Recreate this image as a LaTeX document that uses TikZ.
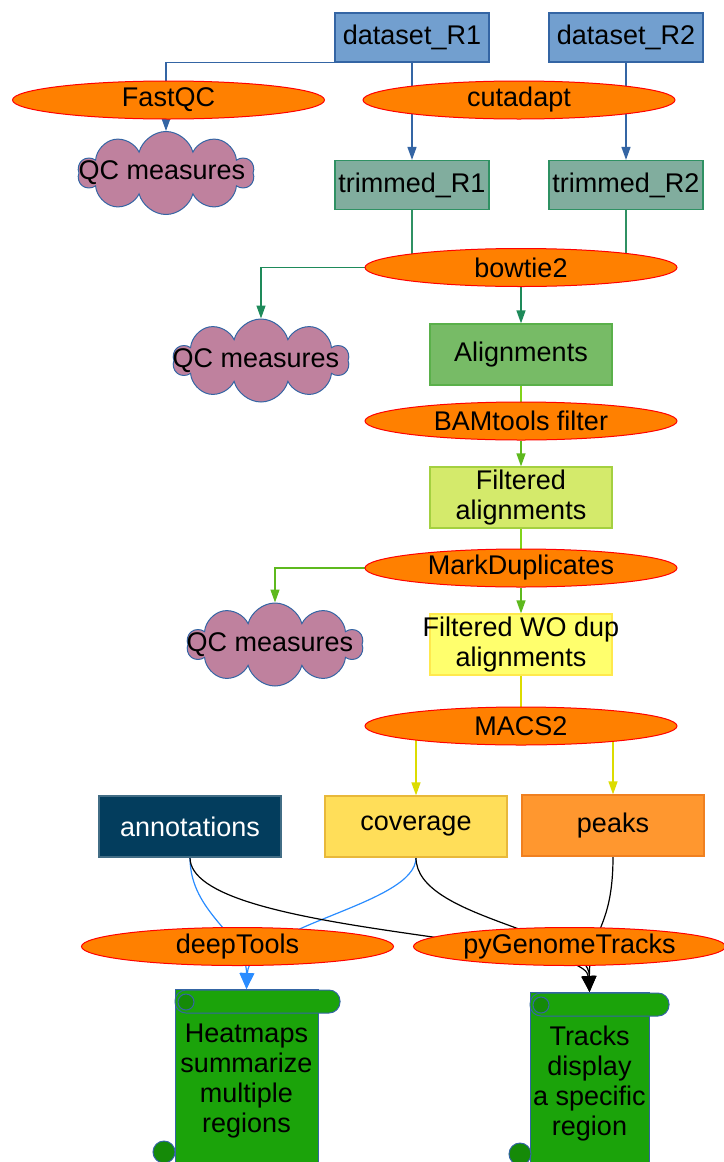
\documentclass[tikz,border=0pt]{standalone}
\usepackage{fontspec}
\setmainfont{Liberation Sans}
\usetikzlibrary{shapes.geometric,shapes.symbols,arrows.meta,backgrounds}

\definecolor{dsblue}{HTML}{729FCF}
\definecolor{dsedge}{HTML}{3465A4}
\definecolor{toolorange}{HTML}{FF8000}
\definecolor{trfill}{HTML}{81AD9E}
\definecolor{tredge}{HTML}{2F9163}
\definecolor{alfill}{HTML}{77BB66}
\definecolor{aledge}{HTML}{5AB04A}
\definecolor{ffill}{HTML}{D4EA6B}
\definecolor{fedge}{HTML}{A4D040}
\definecolor{wofill}{HTML}{FFFF6D}
\definecolor{woedge}{HTML}{FFE94D}
\definecolor{covfill}{HTML}{FFDE59}
\definecolor{covedge}{HTML}{E8B83A}
\definecolor{pkfill}{HTML}{FF972F}
\definecolor{pkedge}{HTML}{F08020}
\definecolor{annfill}{HTML}{033D5D}
\definecolor{qcfill}{HTML}{BF819E}
\definecolor{scrfill}{HTML}{1BA30A}
\definecolor{scrdark}{HTML}{158A08}
\definecolor{lnteal}{HTML}{1E8A5A}
\definecolor{lnlime}{HTML}{81D41A}
\definecolor{lngreen}{HTML}{5EB91E}
\definecolor{lnyellow}{HTML}{DCDC00}
\definecolor{lnsky}{HTML}{2A8CFF}

\tikzset{
  every node/.style={font=\fontsize{13.5}{15}\selectfont},
  box/.style={rectangle, draw, line width=0.6pt, minimum width=91pt, minimum height=30.5pt, inner sep=0pt, align=center},
  rbox/.style={box, minimum width=77pt, minimum height=24.5pt},
  tool/.style={ellipse, fill=toolorange, draw=red, line width=0.5pt, minimum width=156pt, minimum height=19pt, inner sep=0pt},
  qc/.style={cloud, cloud puffs=10, fill=qcfill, draw=dsedge, line width=0.5pt, minimum width=88pt, minimum height=41.5pt, inner sep=0pt},
  scroll/.style={rectangle, fill=scrfill, draw=dsedge, line width=0.5pt, inner sep=0pt, minimum height=91.5pt, align=center},
  link/.style={line width=0.7pt},
  flow/.style={link, -{Triangle[length=6.5pt,width=4.5pt]}},
  result/.style={line width=0.6pt, -{Triangle[length=8pt,width=7pt]}},
}

\begin{document}
\begin{tikzpicture}[x=0.5pt,y=-0.5pt]
\useasboundingbox (0,0) rectangle (723,1162);

% reads and trimming
\node[rbox, fill=dsblue, draw=dsedge] (dsR1) at (412,37.5) {dataset\_R1};
\node[rbox, fill=dsblue, draw=dsedge] (dsR2) at (626,37.5) {dataset\_R2};
\node[tool] (fastqc) at (168.5,100) {FastQC};
\node[tool] (cutadapt) at (519,100) {cutadapt};
\node[qc, label={[xshift=-2pt]center:QC measures}] (qc1) at (166,173) {};
\node[rbox, fill=trfill, draw=tredge] (trR1) at (412,185) {trimmed\_R1};
\node[rbox, fill=trfill, draw=tredge] (trR2) at (626,185) {trimmed\_R2};

% mapping and filtering
\node[tool] (bowtie) at (521,267.5) {bowtie2};
\node[qc, label={[xshift=-2.5pt]center:QC measures}] (qc2) at (261,360.5) {};
\node[box, fill=alfill, draw=aledge] (align) at (521,354.5) {Alignments};
\node[tool] (bamtools) at (521,421) {BAMtools filter};
\node[box, fill=ffill, draw=fedge] (filt) at (521,497.5) {Filtered\\alignments};
\node[tool] (markdup) at (521,568) {MarkDuplicates};
\node[qc, label={[xshift=-2.5pt]center:QC measures}] (qc3) at (275,644.5) {};
\node[box, fill=wofill, draw=woedge] (filtwo) at (521,644.5) {\makebox[0pt]{Filtered WO dup}\\alignments};

% peak calling
\node[tool] (macs) at (521,726) {MACS2};
\node[box, fill=annfill, draw=annfill!75!white, text=white] (annot) at (190,826.5) {annotations};
\node[box, fill=covfill, draw=covedge] (cov) at (416,826.5) {coverage};
\node[box, fill=pkfill, draw=pkedge] (peaks) at (613,825.5) {peaks};

% plots
\node[tool] (deep) at (237.5,946.5) {deepTools};
\node[tool] (pygt) at (569.5,946.5) {pyGenomeTracks};
\node[scroll, minimum width=71.5pt] (heat) at (246.5,1081) {Heatmaps\\summarize\\multiple\\regions};
\node[scroll, minimum width=59.5pt] (tracks) at (589.5,1084) {Tracks\\display\\a specific\\region};

% scroll rolls
\filldraw[fill=scrfill, draw=dsedge, line width=0.5pt, rounded corners=5.5pt] (175,990) rectangle (340,1013);
\filldraw[fill=scrdark, draw=dsedge, line width=0.5pt] (186,1002) circle[radius=4pt];
\filldraw[fill=scrdark, draw=dsedge, line width=0.5pt] (164,1152) circle[radius=5.5pt];
\filldraw[fill=scrfill, draw=dsedge, line width=0.5pt, rounded corners=5.5pt] (530,993) rectangle (669,1016);
\filldraw[fill=scrdark, draw=dsedge, line width=0.5pt] (541,1005) circle[radius=4pt];
\filldraw[fill=scrdark, draw=dsedge, line width=0.5pt] (520,1154) circle[radius=5.5pt];

\begin{scope}[on background layer]
\draw[flow, dsedge] (dsR1.south west) -| (qc1.north);
\draw[flow, dsedge] (dsR1) -- (trR1);
\draw[flow, dsedge] (dsR2) -- (trR2);
\draw[link, tredge] (trR1) -- (trR1 |- bowtie);
\draw[link, tredge] (trR2) -- (trR2 |- bowtie);
\draw[flow, lnteal] (bowtie.west) -| (qc2.north);
\draw[flow, lnteal] (bowtie) -- (align);
\draw[link, lnlime] (align) -- (bamtools);
\draw[flow, lngreen] (bamtools) -- (filt);
\draw[link, lnlime] (filt) -- (markdup);
\draw[flow, lngreen] (markdup.west) -| (qc3.north);
\draw[flow, lngreen] (markdup) -- (filtwo);
\draw[link, lnyellow] (filtwo) -- (macs);
\draw[flow, lnyellow] (cov.north |- macs) -- (cov.north);
\draw[flow, lnyellow] (peaks.north |- macs) -- (peaks.north);
% to the plots
\draw[result, lnsky] (annot.south) .. controls (190,914) and (246.5,935) .. (heat.north);
\draw[result, lnsky] (cov.south) .. controls (416,905) and (250,925) .. (heat.north);
\draw[result, black] (annot.south) .. controls (190,935) and (585,935) .. (tracks.north);
\draw[result, black] (cov.south) .. controls (416,920) and (589,930) .. (tracks.north);
\draw[result, black] (peaks.south) .. controls (613,930) and (589,930) .. (tracks.north);
\end{scope}
\end{tikzpicture}
\end{document}
